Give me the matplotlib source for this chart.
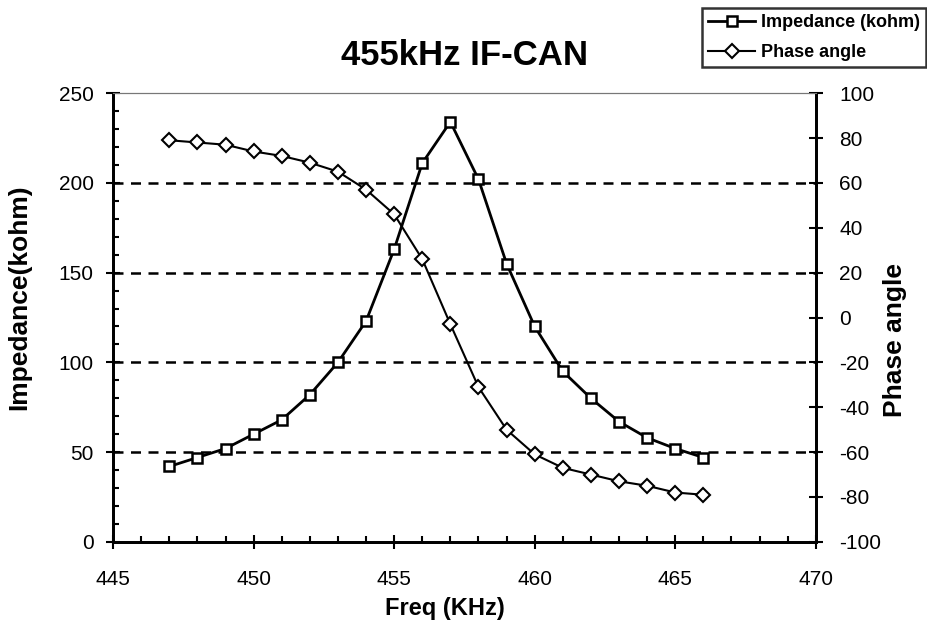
"""455kHz IF-CAN impedance / phase chart"""
import matplotlib
matplotlib.use('Agg')
import matplotlib.pyplot as plt
from matplotlib.ticker import MultipleLocator

plt.rcParams['font.family'] = ['Liberation Sans', 'DejaVu Sans']
plt.rcParams['axes.unicode_minus'] = False

freq = [447, 448, 449, 450, 451, 452, 453, 454, 455, 456,
        457, 458, 459, 460, 461, 462, 463, 464, 465, 466]
impedance = [42, 47, 52, 60, 68, 82, 100, 123, 163, 211,
             234, 202, 155, 120, 95, 80, 67, 58, 52, 47]
phase = [79, 78, 77, 74, 72, 69, 65, 57, 46, 26,
         -3, -31, -50, -61, -67, -70, -73, -75, -78, -79]

fig = plt.figure(figsize=(9.27, 6.25), dpi=100)
ax = fig.add_axes([0.122, 0.133, 0.758, 0.718])
ax2 = ax.twinx()

# impedance on the left axis
l1, = ax.plot(freq, impedance, color='black', lw=2, marker='s', ms=7.5,
              mfc='white', mec='black', mew=1.8, label='Impedance (kohm)')
# phase on the right axis
l2, = ax2.plot(freq, phase, color='black', lw=1.5, marker='D', ms=7.5,
               mfc='white', mec='black', mew=1.5, label='Phase angle')

ax.set_xlim(445, 470)
ax.set_ylim(0, 250)
ax2.set_ylim(-100, 100)

ax.xaxis.set_major_locator(MultipleLocator(5))
ax.xaxis.set_minor_locator(MultipleLocator(1))
ax.yaxis.set_major_locator(MultipleLocator(50))
ax.yaxis.set_minor_locator(MultipleLocator(10))
ax2.yaxis.set_major_locator(MultipleLocator(20))

for v in [50, 100, 150, 200]:
    ax.axhline(v, color='black', lw=1.8, ls=(0, (4, 3)), zorder=0)

for a in (ax, ax2):
    a.spines['top'].set_color('#777777')
    a.spines['top'].set_linewidth(0.8)
    a.spines['left'].set_linewidth(2)
    a.spines['bottom'].set_linewidth(2)
    a.spines['right'].set_linewidth(2)

ax.tick_params(axis='x', which='major', direction='inout', length=10, width=1.5,
               labelsize=15, pad=15)
ax.tick_params(axis='x', which='minor', direction='in', length=4, width=1.5)
ax.tick_params(axis='y', which='major', direction='inout', length=10, width=1.5,
               labelsize=15, pad=9)
ax.tick_params(axis='y', which='minor', direction='in', length=4, width=1.5)
ax2.tick_params(axis='y', which='major', direction='inout', length=10, width=1.5,
                labelsize=15, pad=12)

ax.set_title('455kHz IF-CAN', fontsize=25, fontweight='bold', pad=20)
ax.set_xlabel('Freq (KHz)', fontsize=17, fontweight='bold')
ax.xaxis.set_label_coords(0.472, -0.122)
ax.set_ylabel('Impedance(kohm)', fontsize=19, fontweight='bold')
ax.yaxis.set_label_coords(-0.116, 0.546)
ax2.set_ylabel('Phase angle', fontsize=19, fontweight='bold')
ax2.yaxis.set_label_coords(1.096, 0.450)

leg = fig.legend([l1, l2], ['Impedance (kohm)', 'Phase angle'],
                 loc='upper left', bbox_to_anchor=(702 / 927, 1 - 8 / 625),
                 prop={'size': 13, 'weight': 'bold'}, frameon=True,
                 fancybox=False, edgecolor='black', borderpad=0.35,
                 labelspacing=0.7, handlelength=2.6, handletextpad=0.3,
                 markerscale=0.9, borderaxespad=0)
leg.get_frame().set_linewidth(1.8)

fig.savefig('out.png', dpi=100, facecolor='white')
